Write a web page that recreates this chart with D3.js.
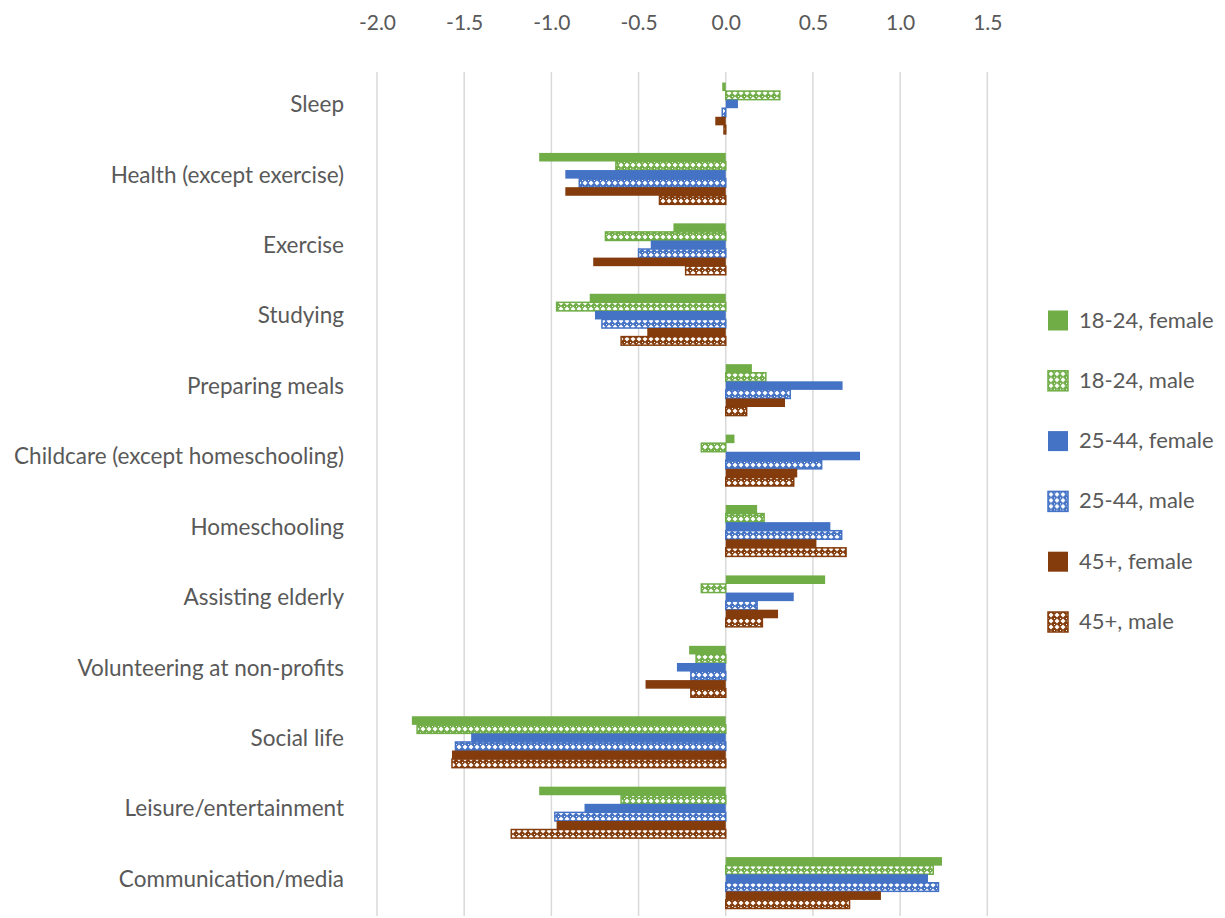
<!DOCTYPE html>
<html lang="en">
<head>
<meta charset="utf-8">
<script src="https://d3js.org/d3.v7.min.js"></script>
<title>Change in time use</title>
<style>
body { margin: 0; background: #ffffff; }
text { font-family: Lato, "Open Sans", sans-serif; fill: #595959; }
</style>
</head>
<body>
<script>
// categories, top to bottom
var categories = ["Sleep", "Health (except exercise)", "Exercise", "Studying", "Preparing meals",
  "Childcare (except homeschooling)", "Homeschooling", "Assisting elderly",
  "Volunteering at non-profits", "Social life", "Leisure/entertainment", "Communication/media"];

var seriesNames = ["18-24, female", "18-24, male", "25-44, female", "25-44, male", "45+, female", "45+, male"];

// values
var f1824 = [-0.02, -1.07, -0.30, -0.78, 0.15, 0.05, 0.18, 0.57, -0.21, -1.80, -1.07, 1.24];
var m1824 = [0.31, -0.63, -0.69, -0.97, 0.23, -0.14, 0.22, -0.14, -0.17, -1.77, -0.60, 1.19];
var f2544 = [0.07, -0.92, -0.43, -0.75, 0.67, 0.77, 0.60, 0.39, -0.28, -1.46, -0.81, 1.16];
var m2544 = [-0.02, -0.84, -0.50, -0.71, 0.37, 0.55, 0.665, 0.18, -0.20, -1.55, -0.98, 1.22];
var f45 = [-0.06, -0.92, -0.76, -0.45, 0.34, 0.41, 0.52, 0.30, -0.46, -1.57, -0.97, 0.89];
var m45 = [-0.01, -0.38, -0.23, -0.60, 0.12, 0.39, 0.69, 0.21, -0.20, -1.57, -1.23, 0.71];

var xTicks = [-2.0, -1.5, -1.0, -0.5, 0.0, 0.5, 1.0, 1.5];

var seriesValues = [f1824, m1824, f2544, m2544, f45, m45];
var seriesColors = ["#70AD47", "#70AD47", "#4472C4", "#4472C4", "#843C0C", "#843C0C"];
var seriesHatched = [false, true, false, true, false, true];

var width = 1225, height = 918;

var svg = d3.select("body").append("svg")
  .attr("width", width)
  .attr("height", height);

// hatch patterns for the male series
var defs = svg.append("defs");
["#70AD47", "#4472C4", "#843C0C"].forEach(function(c, i) {
  var p = defs.append("pattern")
    .attr("id", "hatch" + i)
    .attr("patternUnits", "userSpaceOnUse")
    .attr("width", 6).attr("height", 6);
  p.append("rect").attr("width", 6).attr("height", 6).attr("fill", c);
  p.append("path")
    .attr("d", "M3,0.5 L5.5,3 L3,5.5 L0.5,3 Z")
    .attr("fill", "#ffffff");
  p.append("rect").attr("x", 0).attr("y", 0).attr("width", 1).attr("height", 1).attr("fill", "#ffffff");
});

var x = d3.scaleLinear()
  .domain([-2, 1.5])
  .range([377, 987.3]);

var y = d3.scaleBand()
  .domain(categories)
  .range([73, 918])
  .paddingInner(0.27)
  .paddingOuter(0.135);

var ySub = d3.scaleBand()
  .domain(d3.range(seriesNames.length))
  .range([0, y.bandwidth()]);

// gridlines
svg.append("g").selectAll("line")
  .data(xTicks)
  .enter().append("line")
  .attr("x1", function(d) { return x(d); })
  .attr("x2", function(d) { return x(d); })
  .attr("y1", 72)
  .attr("y2", 916)
  .style("stroke", "#d9d9d9")
  .style("stroke-width", 1.5);

// top axis labels (plain hyphen for negatives, as in the original)
var xAxis = d3.axisTop(x)
  .tickValues(xTicks)
  .tickFormat(function(d) { return d.toFixed(1); })
  .tickSize(0)
  .tickPadding(0);

var gx = svg.append("g")
  .attr("transform", "translate(0,30)")
  .call(xAxis);
gx.select(".domain").remove();
gx.selectAll("text")
  .style("font-size", "21px")
  .style("fill", "#595959")
  .attr("dy", 0);

// bars
seriesValues.forEach(function(vals, s) {
  var colorIdx = Math.floor(s / 2);
  svg.append("g").selectAll("rect")
    .data(vals)
    .enter().append("rect")
    .attr("x", function(d) { return x(Math.min(0, d)); })
    .attr("y", function(d, i) { return y(categories[i]) + ySub(s); })
    .attr("width", function(d) { return Math.abs(x(d) - x(0)); })
    .attr("height", ySub.bandwidth())
    .style("fill", seriesHatched[s] ? "url(#hatch" + colorIdx + ")" : seriesColors[s])
    .style("stroke", seriesHatched[s] ? seriesColors[s] : "none")
    .style("stroke-width", 1.5);
});

// category labels
svg.append("g").selectAll("text")
  .data(categories)
  .enter().append("text")
  .attr("x", 344)
  .attr("y", function(d) { return y(d) + y.bandwidth() / 2 + 4; })
  .attr("text-anchor", "end")
  .style("font-size", "22.5px")
  .text(function(d) { return d; });

// legend
var legend = svg.append("g").selectAll("g")
  .data(seriesNames)
  .enter().append("g")
  .attr("transform", function(d, i) { return "translate(1048," + (310.5 + i * 60.3) + ")"; });

legend.append("rect")
  .attr("width", 20)
  .attr("height", 20)
  .style("fill", function(d, i) { return seriesHatched[i] ? "url(#hatch" + Math.floor(i / 2) + ")" : seriesColors[i]; })
  .style("stroke", function(d, i) { return seriesHatched[i] ? seriesColors[i] : "none"; })
  .style("stroke-width", 1.5);

legend.append("text")
  .attr("x", 31)
  .attr("y", 17)
  .style("font-size", "22px")
  .text(function(d) { return d; });
</script>
</body>
</html>
